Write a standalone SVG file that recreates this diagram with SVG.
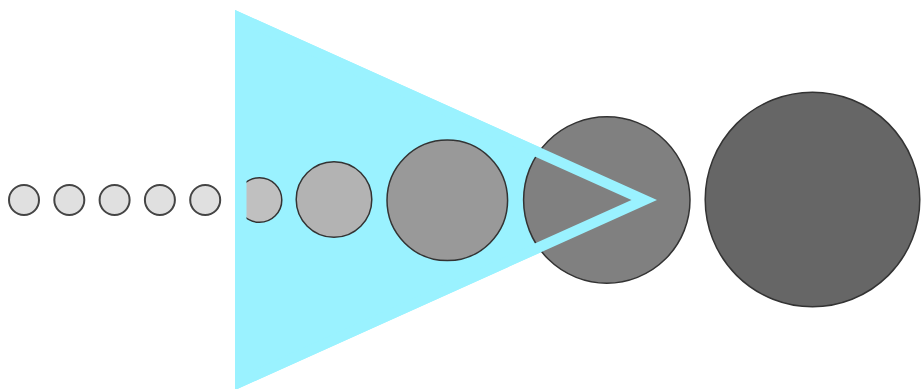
<svg xmlns="http://www.w3.org/2000/svg" width="921" height="389" viewBox="0 0 921 389">
  <style>
    .c { stroke: #333333; stroke-width: 1.5; }
    .s { fill: #e0e0e0; stroke: #444444; stroke-width: 2; }
    .cyan { fill: #9af2ff; stroke: none; }
  </style>
  <rect width="921" height="389" fill="#ffffff"/>
  <g id="triangle">
    <polygon class="cyan" points="235,10 235,390 657,200"/>
  </g>
  <g id="small-1"><circle class="s" cx="24" cy="200" r="15"/></g>
  <g id="small-2"><circle class="s" cx="69.3" cy="200" r="15"/></g>
  <g id="small-3"><circle class="s" cx="114.6" cy="200" r="15"/></g>
  <g id="small-4"><circle class="s" cx="159.9" cy="200" r="15"/></g>
  <g id="small-5"><circle class="s" cx="205.2" cy="200" r="15"/></g>
  <g id="circle-2"><circle class="c" cx="259.5" cy="200" r="22.3" fill="#c0c0c0"/></g>
  <g id="circle-3"><circle class="c" cx="334" cy="199.5" r="37.8" fill="#b3b3b3"/></g>
  <g id="circle-4"><circle class="c" cx="447.3" cy="200.3" r="60.3" fill="#999999"/></g>
  <g id="circle-5"><circle class="c" cx="606.8" cy="200" r="83.2" fill="#808080"/></g>
  <g id="circle-6"><circle class="c" cx="812.5" cy="199.5" r="107.3" fill="#666666"/></g>
  <g id="triangle-band">
    <path class="cyan" fill-rule="evenodd" d="M235,10 L235,390 L657,200 Z M246.5,26.7 L631.5,200 L246.5,373.3 Z"/>
  </g>
</svg>
